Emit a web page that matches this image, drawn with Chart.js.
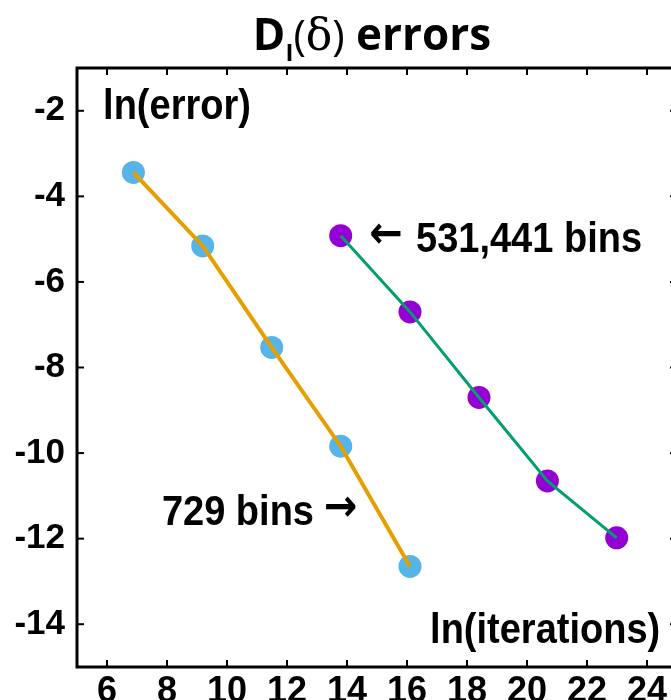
<!DOCTYPE html>
<html>
<head>
<meta charset="utf-8">
<script src="https://cdn.jsdelivr.net/npm/chart.js@4/dist/chart.umd.min.js"></script>
<style>
  html, body { margin: 0; padding: 0; background: #fff; overflow: hidden; }
  #wrap { width: 671px; height: 700px; overflow: hidden; position: relative; }
  canvas { display: block; }
</style>
</head>
<body>
<div id="wrap"><canvas id="c" width="690" height="700"></canvas></div>
<script>
// ---- data ----
const xTicks = [6, 8, 10, 12, 14, 16, 18, 20, 22, 24];
const yTicks = [-2, -4, -6, -8, -10, -12, -14];
const lnIter729 = [6.88, 9.19, 11.49, 13.79, 16.10];
const lnErr729 = [-3.44, -5.16, -7.53, -9.84, -12.65];
const lnIterBig = [13.79, 16.10, 18.40, 20.68, 22.99];
const lnErrBig = [-4.92, -6.70, -8.70, -10.65, -11.98];
const titleParts = ['D', 'I', '(', 'δ', ')', ' errors'];
const label729 = '729 bins';
const labelBig = '531,441 bins';
const arrowRight = '→';
const arrowLeft = '←';
const yAxisTitle = 'ln(error)';
const xAxisTitle = 'ln(iterations)';

const pts = (xs, ys) => xs.map((x, i) => ({ x: x, y: ys[i] }));

const SANS = '"Liberation Sans", Arial, sans-serif';

const framePlugin = {
  id: 'frame',
  afterDraw(chart) {
    const { ctx, chartArea: a, scales: { x, y } } = chart;
    ctx.save();
    ctx.strokeStyle = '#000';
    ctx.lineWidth = 3;
    ctx.strokeRect(a.left, a.top, a.width, a.height);
    ctx.lineWidth = 2;
    const line = (x1, y1, x2, y2) => { ctx.beginPath(); ctx.moveTo(x1, y1); ctx.lineTo(x2, y2); ctx.stroke(); };
    x.ticks.forEach(t => {
      const px = x.getPixelForValue(t.value);
      line(px, a.bottom, px, a.bottom - 7);
      line(px, a.top, px, a.top + 7);
    });
    y.ticks.forEach(t => {
      const py = y.getPixelForValue(t.value);
      line(a.left, py, a.left + 7, py);
      line(a.right, py, a.right - 7, py);
    });

    // annotations (slightly tall letterforms like the reference)
    ctx.fillStyle = '#000';
    ctx.textBaseline = 'alphabetic';
    ctx.textAlign = 'left';
    const txt = (t, px, py, font) => {
      ctx.save();
      ctx.translate(px, py);
      ctx.scale(1, 1.12);
      ctx.font = font;
      ctx.fillText(t, 0, 0);
      const w = ctx.measureText(t).width;
      ctx.restore();
      return w;
    };
    const F = 'bold 38px ' + SANS;
    const A = 'bold 40px "DejaVu Sans"';
    txt(yAxisTitle, x.getPixelForValue(5.87), y.getPixelForValue(-2.19), F);
    txt(xAxisTitle, x.getPixelForValue(16.77), y.getPixelForValue(-14.43), F);
    const w729 = txt(label729, x.getPixelForValue(7.83), y.getPixelForValue(-11.68), F);
    txt(arrowRight, x.getPixelForValue(7.83) + w729 + 10, y.getPixelForValue(-11.58), A);
    txt(arrowLeft, x.getPixelForValue(14.74), y.getPixelForValue(-5.2), A);
    txt(labelBig, x.getPixelForValue(16.3), y.getPixelForValue(-5.3), F);

    // title
    const fonts = [
      { f: 'bold 44px "Open Sans"', dy: 0 },
      { f: 'bold 24px "Open Sans"', dy: 11 },
      { f: '42px "Open Sans"', dy: 0 },
      { f: '44px "DejaVu Serif"', dy: 0 },
      { f: '42px "Open Sans"', dy: 0 },
      { f: 'bold 44px "Open Sans"', dy: 0 }
    ];
    let total = 0;
    const widths = titleParts.map((t, i) => { ctx.font = fonts[i].f; const w = ctx.measureText(t).width; total += w; return w; });
    let cx = 372 - total / 2;
    const base = 50;
    titleParts.forEach((t, i) => {
      ctx.font = fonts[i].f;
      ctx.fillText(t, cx, base + fonts[i].dy);
      cx += widths[i];
    });
    ctx.restore();
  }
};

new Chart(document.getElementById('c'), {
  type: 'scatter',
  data: {
    datasets: [
      { label: '729 bins line', data: pts(lnIter729, lnErr729), showLine: true, borderColor: '#E69F00', borderWidth: 4, pointRadius: 0, order: 0 },
      { label: '531,441 bins line', data: pts(lnIterBig, lnErrBig), showLine: true, borderColor: '#009E73', borderWidth: 3, pointRadius: 0, order: 0 },
      { label: '729 bins', data: pts(lnIter729, lnErr729), showLine: false, backgroundColor: '#56B4E9', borderWidth: 0, pointRadius: 11.5, order: 1 },
      { label: '531,441 bins', data: pts(lnIterBig, lnErrBig), showLine: false, backgroundColor: '#9400D3', borderWidth: 0, pointRadius: 11.5, order: 1 }
    ]
  },
  options: {
    responsive: false,
    animation: false,
    layout: { padding: { top: 68, right: 13, left: 0, bottom: 0 } },
    plugins: { legend: { display: false }, tooltip: { enabled: false }, title: { display: false } },
    scales: {
      x: {
        type: 'linear', min: 5, max: 25,
        grid: { display: false, drawTicks: false },
        border: { display: false },
        afterBuildTicks: s => { s.ticks = xTicks.map(v => ({ value: v })); },
        afterFit: s => { s.height = 33; },
        ticks: { color: '#000', padding: 3, font: { family: SANS, weight: 'bold', size: 36 }, maxRotation: 0, autoSkip: false }
      },
      y: {
        type: 'linear', min: -15, max: -1,
        grid: { display: false, drawTicks: false },
        border: { display: false },
        afterBuildTicks: s => { s.ticks = yTicks.map(v => ({ value: v })); },
        afterFit: s => { s.width = 77; },
        ticks: { color: '#000', padding: 12, font: { family: SANS, weight: 'bold', size: 35 }, autoSkip: false }
      }
    }
  },
  plugins: [framePlugin]
});
</script>
</body>
</html>
